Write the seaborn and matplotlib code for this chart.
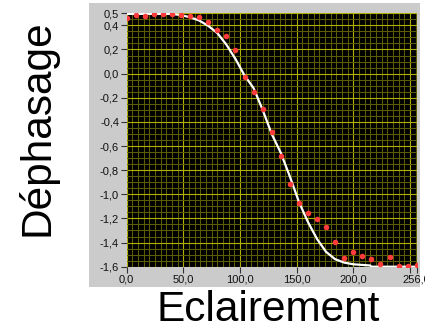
import numpy as np
import pandas as pd
import seaborn as sns
import matplotlib.pyplot as plt
from matplotlib.patches import Rectangle
from matplotlib.ticker import FuncFormatter, MultipleLocator

# measured points (red dots)
mesure_x = [0, 8, 16, 24, 32, 40, 48, 56, 64, 72, 80, 88, 96, 104, 112, 120, 128,
            136, 144, 152, 160, 168, 176, 184, 192, 200, 208, 216, 224, 232, 240, 248, 256]
mesure_y = [0.464, 0.489, 0.478, 0.495, 0.495, 0.495, 0.489, 0.481, 0.473, 0.43, 0.36, 0.314,
            0.193, -0.026, -0.149, -0.297, -0.486, -0.684, -0.914, -1.073, -1.157, -1.205,
            -1.272, -1.393, -1.53, -1.482, -1.508, -1.538, -1.58, -1.522, -1.594, -1.594, -1.583]

# fitted curve (white line)
modele_x = [0, 40, 48, 56, 64, 72, 80, 88, 96, 104, 112, 120, 128, 136, 144, 152, 160,
            168, 176, 184, 192, 200, 215, 216, 256]
modele_y = [0.495, 0.495, 0.485, 0.467, 0.44, 0.396, 0.336, 0.24, 0.122, -0.015, -0.12,
            -0.30, -0.50, -0.656, -0.852, -1.062, -1.23, -1.37, -1.477, -1.538, -1.566,
            -1.58, -1.59, -1.60, -1.60]

x_ticks = [0, 50, 100, 150, 200, 250, 256]
y_ticks = [0.5, 0.4, 0.2, 0.0, -0.2, -0.4, -0.6, -0.8, -1.0, -1.2, -1.4, -1.6]

sns.set_style('ticks')
plt.rcParams['font.family'] = ['Liberation Sans', 'DejaVu Sans']

fig = plt.figure(figsize=(4.25, 3.3), dpi=100)
fig.patch.set_facecolor('white')

# gray LabVIEW-like panel behind the graph
fig.add_artist(Rectangle((89 / 425, 1 - 287 / 330), 331 / 425, 284 / 330,
                         transform=fig.transFigure, facecolor='#cbcbcb',
                         edgecolor='none', zorder=0))

ax = fig.add_axes([126.7 / 425, 1 - 266.7 / 330, 290 / 425, 253.4 / 330])
ax.set_facecolor('black')

df_mod = pd.DataFrame({'x': modele_x, 'y': modele_y})
df_mes = pd.DataFrame({'x': mesure_x, 'y': mesure_y})
sns.lineplot(data=df_mod, x='x', y='y', ax=ax, color='white', linewidth=1.6, zorder=3)
sns.scatterplot(data=df_mes, x='x', y='y', ax=ax, color='#ff3b3b', s=16,
                linewidth=0, zorder=4)

ax.set_xlim(0, 256)
ax.set_ylim(-1.6, 0.5)

ax.set_xticks(x_ticks)
ax.set_yticks(y_ticks)
ax.xaxis.set_minor_locator(MultipleLocator(5))
ax.yaxis.set_minor_locator(MultipleLocator(0.05))

def fmt_x(v, pos):
    if abs(v - 250) < 1e-6:
        return ''
    return f'{v:.1f}'.replace('.', ',')

def fmt_y(v, pos):
    return f'{v:.1f}'.replace('.', ',')

ax.xaxis.set_major_formatter(FuncFormatter(fmt_x))
ax.yaxis.set_major_formatter(FuncFormatter(fmt_y))

ax.grid(which='major', color='#b0b000', linewidth=0.8)
ax.grid(which='minor', color='#5c5c00', linewidth=0.75)
ax.set_axisbelow(True)

ax.tick_params(which='major', length=4, width=0.8, color='#333333',
               labelsize=8, pad=1.5, labelcolor='#111111')
ax.tick_params(which='minor', length=0)

for sp in ax.spines.values():
    sp.set_visible(False)

ax.set_xlabel('')
ax.set_ylabel('')

fig.text(268 / 425, 1 - 310 / 330, 'Eclairement', fontsize=30.5,
         ha='center', va='center', color='black')
fig.text(37 / 425, 1 - 128 / 330, 'Déphasage', fontsize=30.5,
         ha='center', va='center', rotation=90, color='black')

plt.savefig('out.png', dpi=100)
